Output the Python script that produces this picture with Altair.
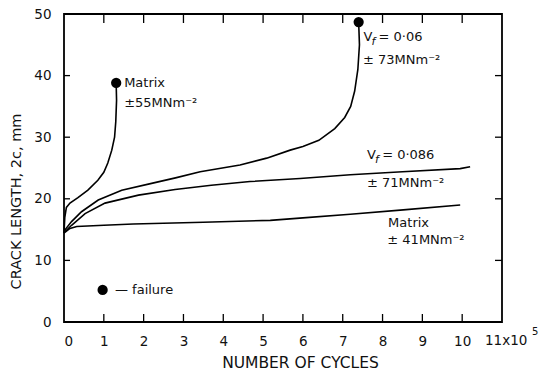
import altair as alt
import pandas as pd

# Crack growth curves: cycles (x 10^5) vs crack length 2c (mm)
m55_x = [0, 0.02, 0.06, 0.15, 0.35, 0.6, 0.85, 1.0, 1.1, 1.2, 1.27, 1.3, 1.32, 1.31]
m55_y = [14.5, 17.0, 18.6, 19.3, 20.2, 21.4, 23.0, 24.3, 25.8, 27.9, 30.0, 32.5, 36.0, 38.8]

v06_x = [0, 0.03, 0.19, 0.44, 0.86, 1.45, 2.2, 2.8, 3.42, 4.42, 5.09, 5.68, 6.0, 6.4, 6.8,
         7.05, 7.2, 7.3, 7.38, 7.42, 7.4]
v06_y = [14.5, 15.0, 16.3, 17.9, 19.8, 21.4, 22.5, 23.4, 24.4, 25.5, 26.6, 27.9, 28.5, 29.5, 31.4,
         33.2, 35.0, 37.5, 41.0, 45.0, 48.7]

v086_x = [0, 0.03, 0.19, 0.53, 1.03, 1.87, 2.79, 3.7, 4.67, 5.93, 7.19, 8.5, 9.95, 10.2]
v086_y = [14.5, 14.7, 15.7, 17.6, 19.3, 20.6, 21.5, 22.2, 22.8, 23.3, 23.9, 24.4, 24.9, 25.2]

m41_x = [0, 0.03, 0.15, 0.32, 1.0, 1.74, 3.5, 5.18, 6.0, 7.19, 8.52, 9.95]
m41_y = [14.4, 14.6, 15.2, 15.5, 15.7, 15.9, 16.2, 16.5, 16.9, 17.5, 18.2, 19.0]

# Failure points (end of the failed tests) and the legend key
fail_x = [1.31, 7.4, 0.97]
fail_y = [38.8, 48.7, 5.2]

# Curve annotations
note_text = ["Matrix", "±55MNm⁻²", "V", "= 0·06", "± 73MNm⁻²",
             "V", "= 0·086", "± 71MNm⁻²", "Matrix", "± 41MNm⁻²", "—  failure"]
note_x = [1.51, 1.51, 7.52, 7.9, 7.51, 7.61, 7.99, 7.61, 8.14, 8.12, 1.28]
note_y = [38.8, 35.5, 46.3, 46.3, 42.5, 27.1, 27.1, 22.6, 16.1, 13.3, 5.2]
sub_x = [7.52, 7.61]
sub_y = [46.3, 27.1]

x_ticks = list(range(1, 11))
y_ticks = [10, 20, 30, 40]
x_labels = list(range(0, 11))
y_labels = [0, 10, 20, 30, 40, 50]

rows = []
for name, xs_, ys_ in [("m55", m55_x, m55_y), ("v06", v06_x, v06_y),
                       ("v086", v086_x, v086_y), ("m41", m41_x, m41_y)]:
    for i, (a, b) in enumerate(zip(xs_, ys_)):
        rows.append({"series": name, "cycles": a, "crack": b, "ord": i})
curves = pd.DataFrame(rows)

W, H = 438, 308
FONT = "DejaVu Sans"
xsc = alt.Scale(domain=[0, 11], nice=False, zero=False)
ysc = alt.Scale(domain=[0, 50], nice=False)

x_axis = alt.Axis(
    values=x_labels, ticks=False, tickSize=0, domain=False, grid=False,
    labelFontSize=13.5, labelPadding=12, labelColor="#111", labelFont=FONT,
    title="NUMBER OF CYCLES", titleFontSize=15.5, titleFontWeight="normal",
    titleFont=FONT, titleColor="#111", titleX=236, titleY=40,
    titleBaseline="middle", titleAlign="center")
y_axis = alt.Axis(
    values=y_labels, ticks=False, tickSize=0, domain=False, grid=False,
    labelFontSize=13.5, labelPadding=13, labelColor="#111", labelFont=FONT,
    title="CRACK LENGTH, 2c, mm", titleFontSize=14.5, titleFontWeight="normal",
    titleFont=FONT, titleColor="#111", titleAngle=270, titleX=-48, titleY=187,
    titleBaseline="middle", titleAlign="center")

# Inward tick marks on all four sides of the frame
tx = pd.DataFrame({"tv": x_ticks})
ty = pd.DataFrame({"tv": y_ticks})
tick_bottom = alt.Chart(tx).mark_rule(color="black", strokeWidth=1.3).encode(
    x=alt.X("tv:Q", scale=xsc, axis=x_axis), y=alt.value(H), y2=alt.value(H - 8))
tick_top = alt.Chart(tx).mark_rule(color="black", strokeWidth=1.3).encode(
    x=alt.X("tv:Q", scale=xsc), y=alt.value(0), y2=alt.value(9))
tick_left = alt.Chart(ty).mark_rule(color="black", strokeWidth=1.3).encode(
    y=alt.Y("tv:Q", scale=ysc, axis=y_axis), x=alt.value(0), x2=alt.value(6))
tick_right = alt.Chart(ty).mark_rule(color="black", strokeWidth=1.3).encode(
    y=alt.Y("tv:Q", scale=ysc), x=alt.value(W), x2=alt.value(W - 7))

lines = alt.Chart(curves).mark_line(color="black", strokeWidth=1.6).encode(
    x=alt.X("cycles:Q", scale=xsc),
    y=alt.Y("crack:Q", scale=ysc),
    detail="series:N",
    order="ord:Q",
)

fails = alt.Chart(pd.DataFrame({"cycles": fail_x, "crack": fail_y})).mark_point(
    filled=True, size=105, color="black", opacity=1
).encode(x=alt.X("cycles:Q", scale=xsc), y=alt.Y("crack:Q", scale=ysc))

notes = alt.Chart(pd.DataFrame({"label": note_text, "cycles": note_x, "crack": note_y})).mark_text(
    align="left", baseline="middle", fontSize=13, font=FONT, color="#111"
).encode(x=alt.X("cycles:Q", scale=xsc), y=alt.Y("crack:Q", scale=ysc), text="label:N")

subs = alt.Chart(pd.DataFrame({"cycles": sub_x, "crack": sub_y})).mark_text(
    align="left", baseline="middle", fontSize=11, font=FONT, color="#111",
    dx=8, dy=5, fontStyle="italic", text="f"
).encode(x=alt.X("cycles:Q", scale=xsc), y=alt.Y("crack:Q", scale=ysc))

# Last x label carries the scale factor
last = alt.Chart(pd.DataFrame({"cycles": [11]})).mark_text(
    align="left", baseline="middle", fontSize=13.5, font=FONT, color="#111", dx=-17, text="11x10"
).encode(x=alt.X("cycles:Q", scale=xsc), y=alt.value(H + 19))
last_exp = alt.Chart(pd.DataFrame({"cycles": [11]})).mark_text(
    align="left", baseline="middle", fontSize=10, font=FONT, color="#111", dx=30, text="5"
).encode(x=alt.X("cycles:Q", scale=xsc), y=alt.value(H + 10))

chart = alt.layer(
    tick_bottom, tick_top, tick_left, tick_right, lines, fails, notes, subs, last, last_exp
).properties(
    width=W, height=H, autosize=alt.AutoSizeParams(type="none"),
    padding={"left": 64, "top": 14, "right": 38, "bottom": 57},
    background="white",
).configure_view(stroke="black", strokeWidth=1.8)

chart.save("out.html", embed_options={"renderer": "svg", "actions": False})
